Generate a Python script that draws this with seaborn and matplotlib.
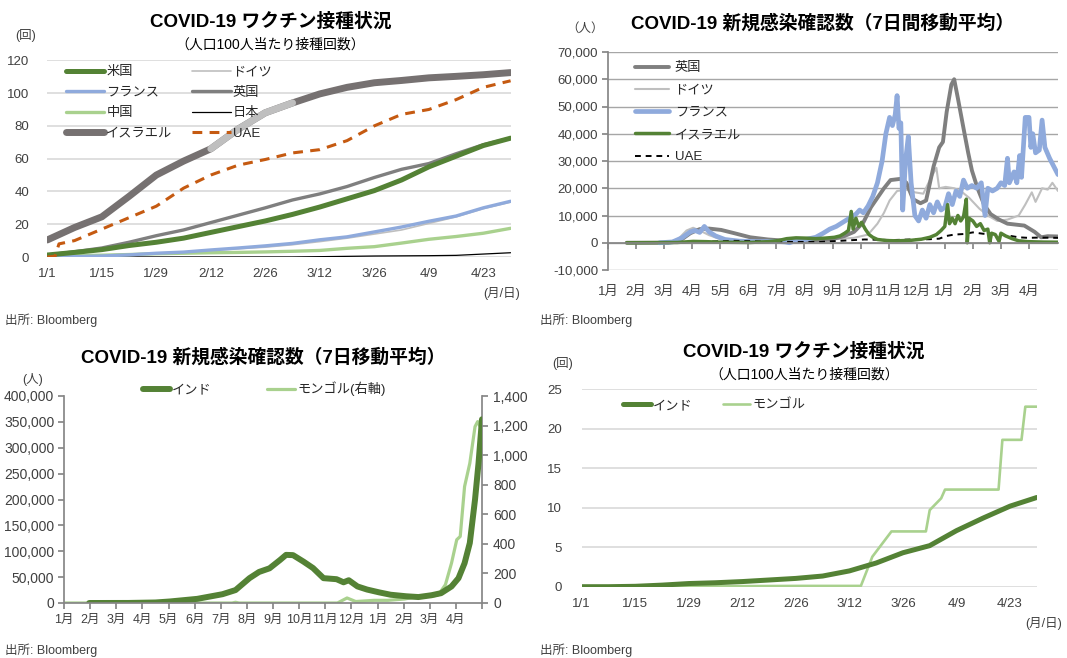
import pandas as pd
import matplotlib
matplotlib.use("Agg")
import matplotlib.pyplot as plt
import seaborn as sns

# ---------------------------------------------------------------- data
# Vaccination, doses per 100 people (2021, weekly readings)
VAX_DATES = ["2021-01-01", "2021-01-08", "2021-01-15", "2021-01-22", "2021-01-29",
             "2021-02-05", "2021-02-12", "2021-02-19", "2021-02-26", "2021-03-05",
             "2021-03-12", "2021-03-19", "2021-03-26", "2021-04-02", "2021-04-09",
             "2021-04-16", "2021-04-23", "2021-04-30"]
VAX_US = [1.2, 2.8, 4.5, 7.0, 9.0, 11.5, 15.0, 18.5, 22.0, 26.0, 30.5, 35.5, 40.5, 47.0, 55.0, 61.5, 68.0, 72.5]
VAX_FR = [0.0, 0.2, 0.6, 1.3, 2.3, 3.0, 4.3, 5.5, 6.8, 8.3, 10.5, 12.3, 15.3, 18.3, 21.8, 25.0, 30.0, 34.0]
VAX_CN = [0.6, 0.9, 1.1, 1.5, 2.0, 2.3, 2.6, 2.8, 3.1, 3.5, 4.0, 5.3, 6.3, 8.5, 10.8, 12.5, 14.5, 17.5]
VAX_IL = [10.4, 18.0, 24.5, 37.0, 50.0, 58.5, 66.0, 78.0, 88.0, 94.0, 99.5, 103.5, 106.3, 107.7, 109.3, 110.2, 111.2, 112.5]
VAX_DE = [0.1, 0.5, 1.0, 1.8, 2.3, 3.0, 4.0, 5.0, 6.0, 7.5, 9.4, 11.5, 14.0, 16.5, 20.5, 24.5, 29.5, 33.5]
VAX_UK = [1.2, 3.2, 5.5, 9.0, 13.0, 16.5, 21.0, 25.5, 30.0, 34.8, 38.5, 43.0, 48.5, 53.5, 57.0, 63.0, 68.5, 72.5]
VAX_JP = [0, 0, 0, 0, 0, 0, 0, 0, 0, 0, 0.2, 0.4, 0.6, 0.7, 0.8, 1.0, 1.8, 2.6]
UAE_VAX_DATES = ["2021-01-01", "2021-01-03", "2021-01-04"] + VAX_DATES[1:]
VAX_UAE = [0.0, 0.5, 8.0, 10.0, 17.0, 24.0, 31.0, 42.0, 50.0, 56.0, 59.5, 63.5, 65.5,
           71.0, 80.0, 87.0, 90.0, 96.0, 103.5, 107.5]
IL_PALE_FROM, IL_PALE_TO = "2021-02-12", "2021-03-05"

VAX_IN = [0, 0, 0.05, 0.2, 0.4, 0.5, 0.65, 0.85, 1.05, 1.35, 2.0, 3.0, 4.3, 5.2, 7.1, 8.7, 10.2, 11.3]
MN_VAX_DATES = ["2021-01-01", "2021-02-28", "2021-03-15", "2021-03-18", "2021-03-23", "2021-04-01",
                "2021-04-02", "2021-04-05", "2021-04-06", "2021-04-20", "2021-04-21", "2021-04-26",
                "2021-04-27", "2021-04-30"]
VAX_MN = [0.0, 0.1, 0.1, 3.8, 7.0, 7.0, 9.7, 11.2, 12.3, 12.3, 18.6, 18.6, 22.8, 22.8]

# New confirmed cases, 7-day average
UK_DATES = ["2020-01-21", "2020-03-05", "2020-03-18", "2020-03-29", "2020-04-08", "2020-04-18",
            "2020-05-01", "2020-05-15", "2020-06-01", "2020-06-20", "2020-07-10", "2020-08-01",
            "2020-08-25", "2020-09-10", "2020-09-20", "2020-09-30", "2020-10-08", "2020-10-15",
            "2020-10-22", "2020-10-29", "2020-11-10", "2020-11-15", "2020-11-22", "2020-11-30",
            "2020-12-06", "2020-12-14", "2020-12-20", "2020-12-24", "2020-12-28", "2021-01-02",
            "2021-01-05", "2021-01-09", "2021-01-15", "2021-01-20", "2021-01-24", "2021-01-30",
            "2021-02-06", "2021-02-13", "2021-02-22", "2021-03-03", "2021-03-21", "2021-04-01",
            "2021-04-08", "2021-04-15", "2021-04-26"]
UK_CASES = [0, 0, 800, 3500, 5000, 5200, 4700, 3500, 2000, 1200, 700, 800, 1100, 2500, 4000, 7500,
            13000, 16500, 20000, 23000, 23500, 22000, 16000, 14500, 15500, 28000, 35000, 37000,
            48000, 58000, 60000, 53000, 42000, 33000, 26500, 20000, 14000, 10500, 8500, 7000, 6300,
            4000, 2000, 2400, 2300]

DE_DATES = ["2020-01-21", "2020-03-01", "2020-03-15", "2020-03-25", "2020-04-01", "2020-04-08",
            "2020-04-18", "2020-05-01", "2020-05-20", "2020-06-15", "2020-07-15", "2020-08-10",
            "2020-08-30", "2020-09-20", "2020-10-05", "2020-10-15", "2020-10-22", "2020-10-28",
            "2020-11-05", "2020-11-15", "2020-11-24", "2020-12-03", "2020-12-10", "2020-12-17",
            "2020-12-20", "2020-12-27", "2021-01-05", "2021-01-12", "2021-01-21", "2021-02-01",
            "2021-02-10", "2021-02-20", "2021-03-03", "2021-03-15", "2021-03-22", "2021-03-29",
            "2021-04-02", "2021-04-09", "2021-04-15", "2021-04-20", "2021-04-26"]
DE_CASES = [0, 0, 1000, 4500, 5500, 4500, 2800, 1200, 600, 400, 450, 1000, 1300, 1800, 3000, 7000,
            11000, 15500, 19000, 19500, 18500, 18000, 23000, 27500, 20000, 20500, 20000, 19000,
            16500, 12500, 10000, 8000, 8500, 10000, 14000, 18500, 15000, 20000, 19500, 22000, 19000]

FR_DATES = ["2020-02-25", "2020-03-10", "2020-03-20", "2020-03-29", "2020-04-03", "2020-04-08",
            "2020-04-13", "2020-04-18", "2020-04-25", "2020-05-05", "2020-05-20", "2020-06-10",
            "2020-06-30", "2020-07-08", "2020-07-13", "2020-07-18", "2020-07-30", "2020-08-10",
            "2020-08-18", "2020-08-25", "2020-09-01", "2020-09-08", "2020-09-15", "2020-09-22",
            "2020-09-26", "2020-09-30", "2020-10-05", "2020-10-10", "2020-10-15", "2020-10-20",
            "2020-10-24", "2020-10-28", "2020-10-31", "2020-11-03", "2020-11-05", "2020-11-07",
            "2020-11-09", "2020-11-11", "2020-11-14", "2020-11-17", "2020-11-20", "2020-11-24",
            "2020-11-28", "2020-12-02", "2020-12-06", "2020-12-10", "2020-12-14", "2020-12-18",
            "2020-12-22", "2020-12-26", "2020-12-30", "2021-01-03", "2021-01-07", "2021-01-11",
            "2021-01-15", "2021-01-19", "2021-01-24", "2021-01-29", "2021-02-03", "2021-02-07",
            "2021-02-10", "2021-02-15", "2021-02-20", "2021-02-24", "2021-02-28", "2021-03-03",
            "2021-03-05", "2021-03-10", "2021-03-13", "2021-03-16", "2021-03-18", "2021-03-22",
            "2021-03-26", "2021-03-28", "2021-03-30", "2021-04-02", "2021-04-06", "2021-04-09",
            "2021-04-12", "2021-04-17", "2021-04-26"]
FR_CASES = [0, 300, 1800, 4000, 4500, 3800, 6000, 4000, 2500, 1200, 600, 400, 500, 300, 0, 600,
            1200, 2000, 3500, 5000, 6000, 7500, 9000, 10500, 12000, 11000, 13500, 17000, 22000,
            30000, 40000, 46000, 43000, 47000, 54000, 42000, 44000, 12000, 30000, 39000, 22000,
            10000, 8000, 12000, 9000, 14000, 11000, 15000, 12000, 13000, 18000, 14000, 19000,
            17000, 23000, 20000, 21000, 20000, 22000, 10000, 20000, 19000, 20000, 22000, 21000,
            31000, 22000, 26000, 22000, 32000, 24000, 46000, 46000, 35000, 40000, 33000, 34000,
            45000, 35000, 31000, 25000]

IL_DATES = ["2020-01-21", "2020-03-15", "2020-04-01", "2020-04-15", "2020-05-01", "2020-06-01",
            "2020-06-20", "2020-07-01", "2020-07-10", "2020-07-20", "2020-07-30", "2020-08-10",
            "2020-08-20", "2020-08-30", "2020-09-05", "2020-09-10", "2020-09-14", "2020-09-17",
            "2020-09-19", "2020-09-22", "2020-09-25", "2020-09-28", "2020-10-02", "2020-10-06",
            "2020-10-10", "2020-10-15", "2020-10-25", "2020-11-05", "2020-11-20", "2020-12-01",
            "2020-12-10", "2020-12-17", "2020-12-22", "2020-12-26", "2020-12-29", "2020-12-31",
            "2021-01-03", "2021-01-06", "2021-01-09", "2021-01-12", "2021-01-15", "2021-01-18",
            "2021-01-19", "2021-01-21", "2021-01-25", "2021-01-29", "2021-02-02", "2021-02-06",
            "2021-02-10", "2021-02-12", "2021-02-14", "2021-02-18", "2021-02-22", "2021-02-24",
            "2021-03-01", "2021-03-08", "2021-03-15", "2021-03-25", "2021-04-10", "2021-04-26"]
IL_CASES = [0, 100, 500, 400, 200, 100, 400, 800, 1500, 1800, 1700, 1500, 1700, 2000, 2500, 3500,
            4500, 11500, 5000, 9000, 6000, 7500, 5000, 3000, 2000, 1200, 800, 700, 900, 1300, 2000,
            3000, 4500, 6000, 14000, 7000, 9000, 7000, 10000, 8000, 9500, 16000, 0, 9000, 8000,
            6000, 7000, 4500, 5000, 0, 3500, 3000, 500, 3500, 2500, 1500, 700, 400, 250, 200]

UAE_DATES = ["2020-01-21", "2020-03-15", "2020-04-10", "2020-05-15", "2020-06-15", "2020-07-15",
             "2020-08-15", "2020-09-15", "2020-10-01", "2020-10-15", "2020-11-01", "2020-11-20",
             "2020-12-10", "2020-12-20", "2020-12-28", "2021-01-05", "2021-01-15", "2021-01-25",
             "2021-02-05", "2021-02-15", "2021-03-01", "2021-03-15", "2021-03-25", "2021-04-05",
             "2021-04-26"]
UAE_CASES = [0, 50, 400, 700, 500, 300, 300, 900, 1200, 1100, 1000, 1200, 1300, 1500, 2500, 3000,
             3200, 3800, 3300, 3200, 2800, 2000, 1800, 1900, 1800]

IN_CASE_DATES = ["2020-01-30", "2020-03-15", "2020-04-15", "2020-05-02", "2020-06-02", "2020-07-01",
                 "2020-07-16", "2020-08-01", "2020-08-12", "2020-08-24", "2020-09-05", "2020-09-12",
                 "2020-09-20", "2020-10-02", "2020-10-13", "2020-10-25", "2020-11-09", "2020-11-17",
                 "2020-11-23", "2020-12-03", "2020-12-14", "2020-12-28", "2021-01-10", "2021-01-28",
                 "2021-02-11", "2021-02-26", "2021-03-09", "2021-03-21", "2021-03-29", "2021-04-05",
                 "2021-04-11", "2021-04-17", "2021-04-21", "2021-04-25"]
IN_CASES = [0, 100, 1000, 3000, 8000, 17000, 25000, 48000, 60000, 67000, 83000, 93000, 92500,
            80000, 67500, 48000, 46000, 40000, 44000, 32000, 26000, 20500, 16000, 13000, 11500,
            15000, 19000, 32000, 48000, 77000, 116000, 200000, 270000, 355000]
MN_CASE_DATES = ["2020-01-01", "2020-05-10", "2020-05-17", "2020-05-24", "2020-07-12", "2020-07-16",
                 "2020-07-20", "2020-11-10", "2020-11-21", "2020-12-01", "2020-12-22", "2021-01-07",
                 "2021-01-26", "2021-02-11", "2021-02-26", "2021-03-06", "2021-03-14", "2021-03-21",
                 "2021-03-27", "2021-03-31", "2021-04-05", "2021-04-11", "2021-04-17", "2021-04-20",
                 "2021-04-25"]
MN_CASES = [0, 0, 11, 0, 0, 5, 0, 0, 34, 10, 18, 18, 27, 45, 45, 56, 124, 270, 428, 450, 788, 945,
            1193, 1227, 1170]

VAX_TICK_DATES = ["2021-01-01", "2021-01-15", "2021-01-29", "2021-02-12", "2021-02-26",
                  "2021-03-12", "2021-03-26", "2021-04-09", "2021-04-23"]
VAX_TICK_LABELS = ["1/1", "1/15", "1/29", "2/12", "2/26", "3/12", "3/26", "4/9", "4/23"]
MONTH_LABELS = ["1月", "2月", "3月", "4月", "5月", "6月", "7月", "8月", "9月", "10月", "11月",
                "12月", "1月", "2月", "3月", "4月"]

# ---------------------------------------------------------------- style
sns.set_theme(style="white")
plt.rcParams["font.family"] = ["Liberation Sans", "Noto Sans CJK JP"]
plt.rcParams["axes.unicode_minus"] = False

GREEN = "#548235"
LIGHT_GREEN = "#A9D18E"
BLUE = "#8FAADC"
GRAY = "#7F7F7F"
DARK_GRAY = "#767171"
PALE_GRAY = "#BFBFBF"
BROWN = "#C55A11"
TICK_COLOR = "#404040"
SPINE = "#868686"
LEGEND_SIZE = 9.5

W, H = 1067, 658
fig = plt.figure(figsize=(W / 100, H / 100), dpi=100)


def axes_px(left, top, right, bottom):
    return fig.add_axes([left / W, 1 - bottom / H, (right - left) / W, (bottom - top) / H])


def text_px(x, y, s, **kw):
    kw.setdefault("va", "center")
    kw.setdefault("color", "black")
    fig.text(x / W, 1 - y / H, s, **kw)


def draw(ax, dates, values, **kw):
    sns.lineplot(x=pd.to_datetime(dates), y=values, ax=ax, errorbar=None,
                 estimator=None, sort=False, **kw)


def strip(ax):
    ax.set_xlabel("")
    ax.set_ylabel("")
    for s in ax.spines.values():
        s.set_visible(False)


def vaccine_axes(ax, ymax, ystep, ypad):
    strip(ax)
    ax.set_xlim(pd.Timestamp("2021-01-01"), pd.Timestamp("2021-04-30"))
    ax.set_ylim(0, ymax)
    ax.set_yticks(range(0, ymax + 1, ystep))
    ax.yaxis.grid(True, color="#D9D9D9", linewidth=1.2)
    ax.xaxis.grid(False)
    ax.set_xticks(pd.to_datetime(VAX_TICK_DATES))
    ax.set_xticklabels(VAX_TICK_LABELS)
    ax.tick_params(axis="both", length=0, labelsize=9.5, labelcolor=TICK_COLOR)
    ax.tick_params(axis="x", pad=8)
    ax.tick_params(axis="y", pad=ypad)


# ---------------------------------------------------------------- top left: vaccination, 8 countries
ax1 = axes_px(47.3, 60.3, 510.6, 257)
draw(ax1, VAX_DATES, VAX_DE, color=PALE_GRAY, linewidth=1.2, label="ドイツ")
draw(ax1, VAX_DATES, VAX_JP, color="black", linewidth=0.9, label="日本")
draw(ax1, VAX_DATES, VAX_CN, color=LIGHT_GREEN, linewidth=2.4, label="中国")
draw(ax1, VAX_DATES, VAX_FR, color=BLUE, linewidth=2.4, label="フランス")
draw(ax1, VAX_DATES, VAX_UK, color=GRAY, linewidth=2.4, label="英国")
draw(ax1, VAX_DATES, VAX_US, color=GREEN, linewidth=3.6, label="米国")
draw(ax1, UAE_VAX_DATES, VAX_UAE, color=BROWN, linewidth=2.2, linestyle=(0, (3.2, 2.4)), label="UAE")
draw(ax1, VAX_DATES, VAX_IL, color=DARK_GRAY, linewidth=5.0, label="イスラエル")
pale = [i for i, d in enumerate(VAX_DATES) if IL_PALE_FROM <= d <= IL_PALE_TO]
draw(ax1, [VAX_DATES[i] for i in pale], [VAX_IL[i] for i in pale], color=PALE_GRAY, linewidth=5.0)
vaccine_axes(ax1, 120, 20, 13)
h1 = {l.get_label(): l for l in ax1.get_lines()}
order1 = ["米国", "フランス", "中国", "イスラエル", "ドイツ", "英国", "日本", "UAE"]
ax1.legend([h1[k] for k in order1], order1, ncol=2, loc="upper left",
           bbox_to_anchor=((66 - 47.3) / 463.3, (257 - 66) / 196.7), frameon=False,
           fontsize=LEGEND_SIZE, handlelength=2.9, handletextpad=0.15, labelspacing=0.63,
           columnspacing=1.5, borderaxespad=0, borderpad=0)

text_px(271, 22, "COVID-19 ワクチン接種状況", ha="center", fontsize=13.5, fontweight="bold")
text_px(270, 45, "（人口100人当たり接種回数）", ha="center", fontsize=10)
text_px(15, 35, "(回)", ha="left", fontsize=9, color=TICK_COLOR)
text_px(520, 293, "(月/日)", ha="right", fontsize=9, color=TICK_COLOR)
text_px(5, 320, "出所: Bloomberg", ha="left", fontsize=9, color=TICK_COLOR)

# ---------------------------------------------------------------- top right: new cases, 5 countries
ax2 = axes_px(608, 52, 1058, 270)
draw(ax2, DE_DATES, DE_CASES, color=PALE_GRAY, linewidth=1.5, label="ドイツ")
draw(ax2, UK_DATES, UK_CASES, color=GRAY, linewidth=2.8, label="英国")
draw(ax2, FR_DATES, FR_CASES, color=BLUE, linewidth=3.4, label="フランス")
draw(ax2, UAE_DATES, UAE_CASES, color="black", linewidth=1.4, linestyle=(0, (3, 2.5)), label="UAE")
draw(ax2, IL_DATES, IL_CASES, color=GREEN, linewidth=2.5, label="イスラエル")
strip(ax2)
ax2.set_xlim(pd.Timestamp("2020-01-01"), pd.Timestamp("2021-04-26"))
ax2.set_ylim(-10000, 70000)
y2 = list(range(-10000, 70001, 10000))
ax2.set_yticks(y2)
ax2.set_yticklabels([f"{v:,}" for v in y2])
ax2.get_yticklabels()[0].set_color("red")
ax2.yaxis.grid(True, color="#A6A6A6", linewidth=1.0)
ax2.xaxis.grid(False)
ax2.spines["left"].set_visible(True)
ax2.spines["left"].set_color(SPINE)
ax2.spines["bottom"].set_visible(True)
ax2.spines["bottom"].set_color(SPINE)
ax2.spines["bottom"].set_position(("data", 0))
ax2.set_xticks(pd.date_range("2020-01-01", periods=16, freq="30D"))
ax2.set_xticklabels(MONTH_LABELS)
ax2.tick_params(axis="x", bottom=True, length=4, color=SPINE, pad=27, labelsize=9.5,
                labelcolor=TICK_COLOR)
ax2.tick_params(axis="y", left=True, length=4, color=SPINE, pad=3, labelsize=9.5,
                labelcolor=TICK_COLOR)
h2 = {l.get_label(): l for l in ax2.get_lines()}
order2 = ["英国", "ドイツ", "フランス", "イスラエル", "UAE"]
ax2.legend([h2[k] for k in order2], order2, loc="upper left",
           bbox_to_anchor=((635 - 608) / 450, (270 - 62) / 218), frameon=False,
           fontsize=LEGEND_SIZE, handlelength=2.6, handletextpad=0.4, labelspacing=0.76,
           borderaxespad=0, borderpad=0)

text_px(823, 23, "COVID-19 新規感染確認数（7日間移動平均）", ha="center", fontsize=13.5,
        fontweight="bold")
text_px(566, 29, "（人）", ha="left", fontsize=9, color=TICK_COLOR)
text_px(540, 320, "出所: Bloomberg", ha="left", fontsize=9, color=TICK_COLOR)

# ---------------------------------------------------------------- bottom left: India / Mongolia cases
ax3 = axes_px(64, 396, 482, 603)
ax3r = ax3.twinx()
draw(ax3r, MN_CASE_DATES, MN_CASES, color=LIGHT_GREEN, linewidth=2.3, label="モンゴル(右軸)")
draw(ax3, IN_CASE_DATES, IN_CASES, color=GREEN, linewidth=4.3, label="インド")
ax3.set_zorder(ax3r.get_zorder() + 1)
ax3.patch.set_visible(False)
for a in (ax3, ax3r):
    strip(a)
    a.grid(False)
    a.set_xlim(pd.Timestamp("2020-01-01"), pd.Timestamp("2021-04-25"))
ax3.set_ylim(0, 400000)
y3 = list(range(0, 400001, 50000))
ax3.set_yticks(y3)
ax3.set_yticklabels([f"{v:,}" for v in y3])
ax3r.set_ylim(0, 1400)
y3r = list(range(0, 1401, 200))
ax3r.set_yticks(y3r)
ax3r.set_yticklabels([f"{v:,}" for v in y3r])
for side in ("left", "bottom"):
    ax3.spines[side].set_visible(True)
    ax3.spines[side].set_color(SPINE)
ax3r.spines["right"].set_visible(True)
ax3r.spines["right"].set_color(SPINE)
ax3.set_xticks(pd.date_range("2020-01-01", periods=17, freq="30D"))
ax3.set_xticklabels(MONTH_LABELS + [""])
ax3.tick_params(axis="x", bottom=True, length=4, color=SPINE, pad=4, labelsize=9,
                labelcolor=TICK_COLOR)
ax3.tick_params(axis="y", left=True, length=4, color=SPINE, pad=3, labelsize=10,
                labelcolor=TICK_COLOR)
ax3r.tick_params(axis="y", right=True, length=4, color=SPINE, pad=4, labelsize=10,
                 labelcolor=TICK_COLOR)
ax3r.tick_params(axis="x", bottom=False, labelbottom=False)
if ax3r.get_legend() is not None:
    ax3r.get_legend().remove()
l_in = ax3.get_lines()[0]
l_mn = ax3r.get_lines()[0]
ax3.legend([l_in, l_mn], ["インド", "モンゴル(右軸)"], ncol=2, loc="center",
           bbox_to_anchor=((264 - 64) / 418, (603 - 389) / 207), frameon=False,
           fontsize=LEGEND_SIZE, handlelength=2.1, handletextpad=0.15, columnspacing=4.2,
           borderaxespad=0, borderpad=0)

text_px(263, 357, "COVID-19 新規感染確認数（7日移動平均）", ha="center", fontsize=13.5,
        fontweight="bold")
text_px(22, 379, "(人)", ha="left", fontsize=9, color=TICK_COLOR)
text_px(5, 650, "出所: Bloomberg", ha="left", fontsize=9, color=TICK_COLOR)

# ---------------------------------------------------------------- bottom right: India / Mongolia vaccination
ax4 = axes_px(581.7, 389.3, 1036.8, 586.7)
draw(ax4, MN_VAX_DATES, VAX_MN, color=LIGHT_GREEN, linewidth=1.9, label="モンゴル")
draw(ax4, VAX_DATES, VAX_IN, color=GREEN, linewidth=3.6, label="インド")
vaccine_axes(ax4, 25, 5, 14)
h4 = {l.get_label(): l for l in ax4.get_lines()}
order4 = ["インド", "モンゴル"]
ax4.legend([h4[k] for k in order4], order4, ncol=2, loc="center left",
           bbox_to_anchor=((623 - 581.7) / 455.1, (586.7 - 406) / 197.4), frameon=False,
           fontsize=LEGEND_SIZE, handlelength=2.1, handletextpad=0.15, columnspacing=2.3,
           borderaxespad=0, borderpad=0)

text_px(804, 352, "COVID-19 ワクチン接種状況", ha="center", fontsize=13.5, fontweight="bold")
text_px(804, 375, "（人口100人当たり接種回数）", ha="center", fontsize=10)
text_px(552, 363, "(回)", ha="left", fontsize=9, color=TICK_COLOR)
text_px(1062, 623, "(月/日)", ha="right", fontsize=9, color=TICK_COLOR)
text_px(540, 650, "出所: Bloomberg", ha="left", fontsize=9, color=TICK_COLOR)

fig.savefig("out.png", dpi=100)
